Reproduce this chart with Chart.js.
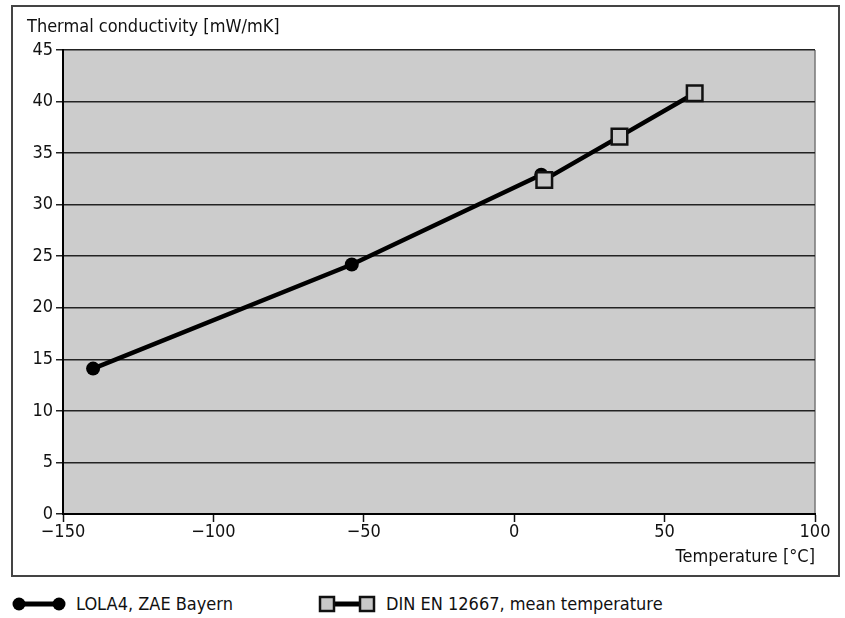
<!DOCTYPE html>
<html>
<head>
<meta charset="utf-8">
<script src="https://cdn.jsdelivr.net/npm/chart.js@4.4.1/dist/chart.umd.min.js"></script>
<style>
  body { margin: 0; width: 845px; height: 618px; background: #fff; position: relative; overflow: hidden;
         font-family: "Liberation Sans Narrow", "DejaVu Sans Condensed", "Roboto Condensed", sans-serif; color: #111; }
  #frame { position: absolute; left: 11px; top: 5px; width: 829px; height: 572px; border: 2px solid #444; box-sizing: border-box; }
  #wrap { position: absolute; left: 0; top: 0; width: 845px; height: 580px; }
  .legend { position: absolute; top: 593px; font-size: 18px; display: flex; align-items: center; }
  .legend svg { margin-right: 10px; }
</style>
</head>
<body>
<div id="frame"></div>
<div id="wrap"><canvas id="chart"></canvas></div>
<div class="legend" style="left:12px">
  <svg width="54" height="18"><line x1="7" y1="9" x2="47" y2="9" stroke="#000" stroke-width="5"/><circle cx="7" cy="9" r="6.5"/><circle cx="47" cy="9" r="6.5"/></svg>
  <span>LOLA4, ZAE Bayern</span>
</div>
<div class="legend" style="left:318px">
  <svg width="58" height="18"><line x1="10" y1="9" x2="48" y2="9" stroke="#000" stroke-width="5"/><rect x="2" y="2" width="14" height="14" fill="#c8c8c8" stroke="#111" stroke-width="2.5"/><rect x="42" y="2" width="14" height="14" fill="#c8c8c8" stroke="#111" stroke-width="2.5"/></svg>
  <span>DIN EN 12667, mean temperature</span>
</div>
<script>
const FONT = '"Liberation Sans Narrow", "DejaVu Sans Condensed", sans-serif';

const lolaTemp = [-140, -54, 9];
const lolaValue = [14.1, 24.2, 32.9];
const dinTemp = [10, 35, 60];
const dinValue = [32.4, 36.6, 40.8];

const xMin = -150, xMax = 100, xStep = 50;
const yMin = 0, yMax = 45, yStep = 5;

const yTitle = 'Thermal conductivity [mW/mK]';
const xTitle = 'Temperature [°C]';

const toPoints = (xs, ys) => xs.map((x, i) => ({ x: x, y: ys[i] }));

// grey plot area, thin right edge, y title top-left
const plotArea = {
    id: 'plotArea',
    beforeDraw(chart) {
        const { ctx, chartArea: a } = chart;
        ctx.save();
        ctx.fillStyle = '#cccccc';
        ctx.fillRect(a.left, a.top, a.right - a.left, a.bottom - a.top);
        ctx.strokeStyle = '#777';
        ctx.lineWidth = 1.5;
        ctx.beginPath();
        ctx.moveTo(a.right, a.top);
        ctx.lineTo(a.right, a.bottom);
        ctx.stroke();
        ctx.fillStyle = '#111';
        ctx.font = '18px ' + FONT;
        ctx.textBaseline = 'middle';
        ctx.fillText(yTitle, 27, 27);
        ctx.restore();
    }
};

new Chart(document.getElementById('chart'), {
    type: 'line',
    data: {
        datasets: [
            {
                label: 'DIN EN 12667, mean temperature',
                data: toPoints(dinTemp, dinValue),
                borderColor: '#000',
                borderWidth: 4.5,
                pointStyle: 'rect',
                pointRadius: 11,
                pointBorderWidth: 2.5,
                pointBorderColor: '#111',
                pointBackgroundColor: '#c8c8c8'
            },
            {
                label: 'LOLA4, ZAE Bayern',
                data: toPoints(lolaTemp, lolaValue),
                borderColor: '#000',
                borderWidth: 4.5,
                pointStyle: 'circle',
                pointRadius: 7,
                pointBorderWidth: 0,
                pointBackgroundColor: '#000'
            }
        ]
    },
    options: {
        responsive: true,
        maintainAspectRatio: false,
        animation: false,
        layout: { padding: { left: 16, right: 30, top: 50, bottom: 12 } },
        plugins: { legend: { display: false }, tooltip: { enabled: false } },
        scales: {
            x: {
                type: 'linear',
                min: xMin, max: xMax,
                ticks: {
                    stepSize: xStep,
                    color: '#111',
                    font: { size: 18, family: FONT },
                    padding: 0,
                    maxRotation: 0,
                    callback: v => String(v).replace('-', '\u2212')
                },
                grid: { drawOnChartArea: false, drawTicks: true, tickLength: 8, color: '#111', tickWidth: 1.5 },
                border: { color: '#000', width: 2 },
                title: { display: true, text: xTitle, align: 'end', color: '#111', font: { size: 18, family: FONT }, padding: { top: 0, bottom: 0 } },
                afterFit: s => { s.height = 54; }
            },
            y: {
                min: yMin, max: yMax,
                ticks: {
                    stepSize: yStep,
                    color: '#111',
                    font: { size: 18, family: FONT },
                    padding: 3
                },
                grid: { color: '#222', lineWidth: 1.5, drawTicks: true, tickLength: 7 },
                border: { color: '#000', width: 2 },
                afterFit: s => { s.width = 47; }
            }
        }
    },
    plugins: [plotArea]
});
</script>
</body>
</html>
